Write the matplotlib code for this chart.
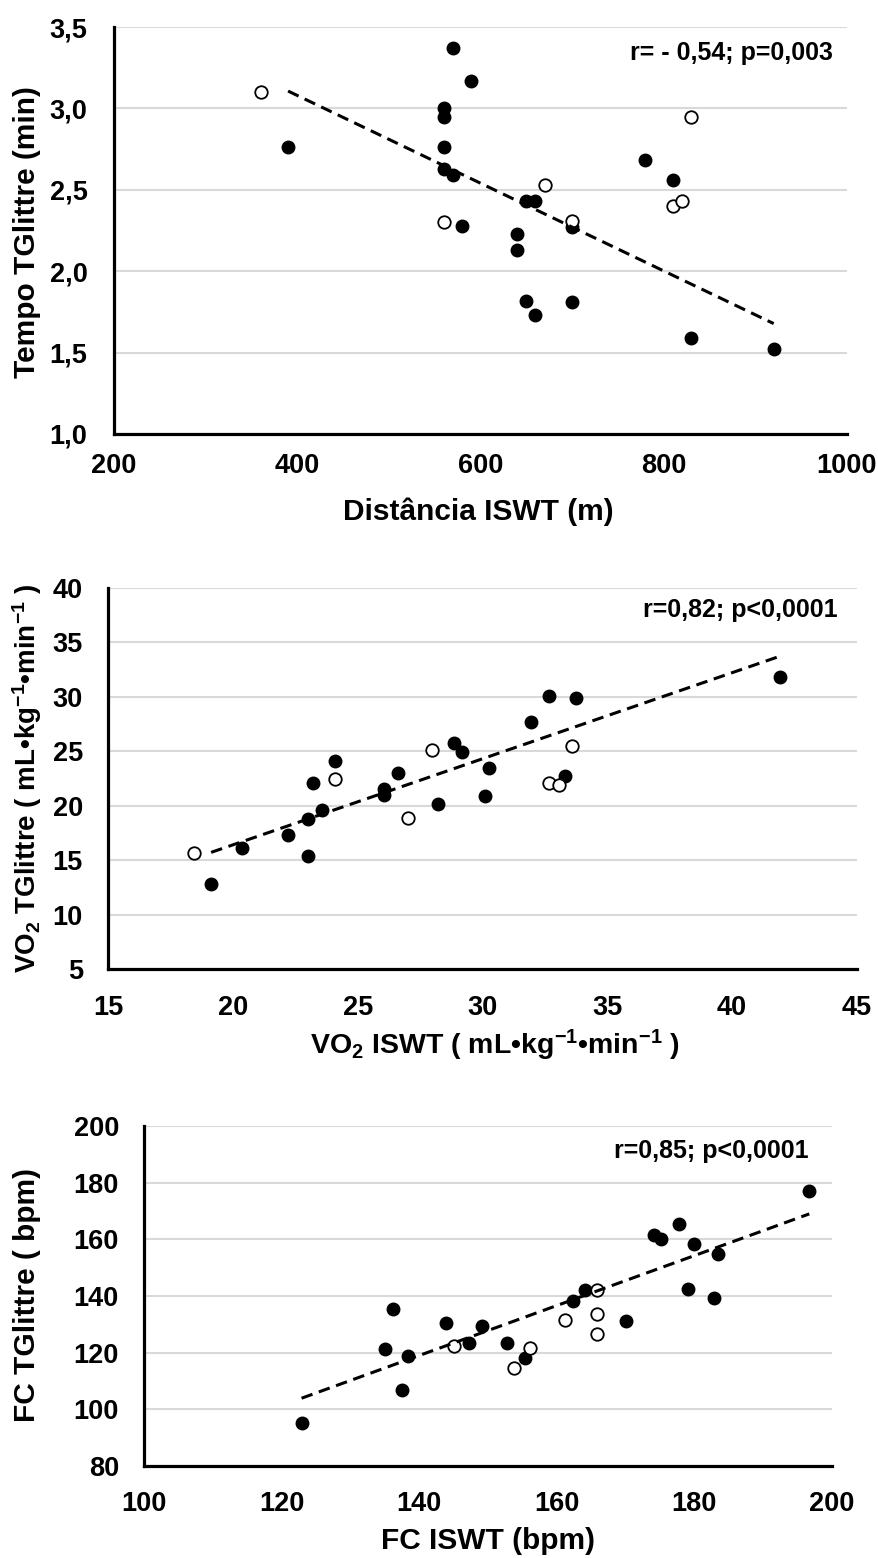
import matplotlib
matplotlib.use("Agg")
import matplotlib.pyplot as plt
import numpy as np

plt.rcParams['font.family'] = ['Liberation Sans', 'DejaVu Sans']
plt.rcParams['font.weight'] = 'bold'
plt.rcParams['mathtext.fontset'] = 'custom'
plt.rcParams['mathtext.rm'] = 'Liberation Sans:bold'
plt.rcParams['mathtext.it'] = 'Liberation Sans:bold'
plt.rcParams['mathtext.bf'] = 'Liberation Sans:bold'

# painel 1: distancia ISWT x tempo TGlittre
dist_fill = [390, 560, 560, 560, 560, 570, 590, 570, 580, 640, 640,
             650, 660, 650, 660, 700, 700, 780, 810, 830, 920]
tempo_fill = [2.76, 3.00, 2.95, 2.76, 2.63, 3.37, 3.17, 2.59, 2.28, 2.23, 2.13,
              2.43, 2.43, 1.82, 1.73, 2.27, 1.81, 2.68, 2.56, 1.59, 1.52]
dist_open = [360, 560, 670, 700, 810, 820, 830]
tempo_open = [3.10, 2.30, 2.53, 2.31, 2.40, 2.43, 2.95]

# painel 2: VO2 ISWT x VO2 TGlittre
vo2_iswt_fill = [19.13, 20.35, 22.22, 23.0, 23.0, 23.2, 23.57, 24.1, 26.05, 26.05, 26.6,
                 28.2, 28.85, 29.18, 30.25, 30.12, 31.96, 32.66, 33.3, 33.73, 41.9]
vo2_tgl_fill = [12.77, 16.07, 17.29, 15.37, 18.81, 22.1, 19.57, 24.09, 21.55, 20.95, 22.99,
                20.18, 25.76, 24.97, 23.45, 20.91, 27.65, 30.09, 22.71, 29.85, 31.83]
vo2_iswt_open = [18.45, 24.1, 27.03, 27.99, 32.66, 33.05, 33.57]
vo2_tgl_open = [15.67, 22.44, 18.9, 25.12, 22.1, 21.86, 25.46]

# painel 3: FC ISWT x FC TGlittre
fc_iswt_fill = [122.9, 136.2, 135.1, 138.3, 137.5, 143.9, 147.2, 149.2, 152.7, 155.4, 162.4,
                164.1, 170.0, 174.2, 175.2, 177.7, 180.0, 179.0, 183.5, 182.8, 196.7]
fc_tgl_fill = [95.3, 135.3, 121.2, 118.8, 106.9, 130.6, 123.3, 129.4, 123.5, 118.2, 138.2,
               142.2, 131.1, 161.4, 160.2, 165.3, 158.2, 142.6, 154.7, 139.4, 176.9]
fc_iswt_open = [145.0, 153.8, 156.1, 161.2, 165.8, 165.8, 165.9]
fc_tgl_open = [122.2, 114.7, 121.5, 131.6, 142.2, 133.8, 126.7]

p1_xticks = [200, 400, 600, 800, 1000]
p1_yticks = [1.0, 1.5, 2.0, 2.5, 3.0, 3.5]
p1_ylabels = ['1,0', '1,5', '2,0', '2,5', '3,0', '3,5']
p2_xticks = [15, 20, 25, 30, 35, 40, 45]
p2_yticks = [5, 10, 15, 20, 25, 30, 35, 40]
p3_xticks = [100, 120, 140, 160, 180, 200]
p3_yticks = [80, 100, 120, 140, 160, 180, 200]

W, H = 879, 1558
fig = plt.figure(figsize=(W / 100, H / 100), dpi=100)


def rect(l, t, r, b):
    return [l / W, 1 - b / H, (r - l) / W, (b - t) / H]


def ftext(x, y, s, **kw):
    fig.text(x / W, 1 - y / H, s, **kw)


def panel(box, fx, fy, ox, oy, xticks, yticks, ylabels, xpad, ypad):
    ax = fig.add_axes(rect(*box))
    ax.set_xlim(xticks[0], xticks[-1])
    ax.set_ylim(yticks[0], yticks[-1])
    ax.set_xticks(xticks)
    ax.set_yticks(yticks)
    ax.set_xticklabels([str(t) for t in xticks])
    ax.set_yticklabels(ylabels)
    ax.tick_params(axis='x', length=0, labelsize=19.5, pad=xpad)
    ax.tick_params(axis='y', length=0, labelsize=19.5, pad=ypad)
    ax.grid(axis='y', color='#d9d9d9', linewidth=1.5)
    ax.set_axisbelow(True)
    ax.spines['right'].set_color('none')
    ax.spines['top'].set_color('none')
    ax.spines['left'].set_linewidth(2.3)
    ax.spines['bottom'].set_linewidth(2.3)

    ax.plot(fx, fy, 'o', color='black', markersize=9, zorder=3)
    ax.plot(ox, oy, 'o', markerfacecolor='white', markeredgecolor='black',
            markeredgewidth=1.3, markersize=9, zorder=3)

    # linha de tendencia so da serie cheia
    a, b = np.polyfit(fx, fy, 1)
    xs = np.array([min(fx), max(fx)])
    ax.plot(xs, a * xs + b, color='black', linewidth=2.2, linestyle=(0, (3.8, 2.2)), zorder=4)
    return ax


panel((114, 27, 847, 434), dist_fill, tempo_fill, dist_open, tempo_open,
      p1_xticks, p1_yticks, p1_ylabels, 14, 19)
ftext(833, 53, 'r= - 0,54; p=0,003', ha='right', va='center', fontsize=18)
ftext(478, 512, 'Distância ISWT (m)', ha='center', va='center', fontsize=21.5)
ftext(27, 232, 'Tempo TGlittre (min)', ha='center', va='center', rotation=90, fontsize=21.5)

panel((108, 588, 857, 969), vo2_iswt_fill, vo2_tgl_fill, vo2_iswt_open, vo2_tgl_open,
      p2_xticks, p2_yticks, [str(t) for t in p2_yticks], 19, 18)
ftext(838, 610, 'r=0,82; p<0,0001', ha='right', va='center', fontsize=18)
ftext(495, 1045, 'VO$_2$ ISWT ( mL•kg$^{-1}$•min$^{-1}$ )', ha='center', va='center', fontsize=20.5)
ftext(27, 778, 'VO$_2$ TGlittre ( mL•kg$^{-1}$•min$^{-1}$ )', ha='center', va='center',
      rotation=90, fontsize=20)

panel((144, 1126, 832, 1466), fc_iswt_fill, fc_tgl_fill, fc_iswt_open, fc_tgl_open,
      p3_xticks, p3_yticks, [str(t) for t in p3_yticks], 18, 18)
ftext(809, 1151, 'r=0,85; p<0,0001', ha='right', va='center', fontsize=18)
ftext(488, 1541, 'FC ISWT (bpm)', ha='center', va='center', fontsize=21.5)
ftext(27, 1295, 'FC TGlittre ( bpm)', ha='center', va='center', rotation=90, fontsize=21.5)

fig.savefig('out.png', dpi=100)
